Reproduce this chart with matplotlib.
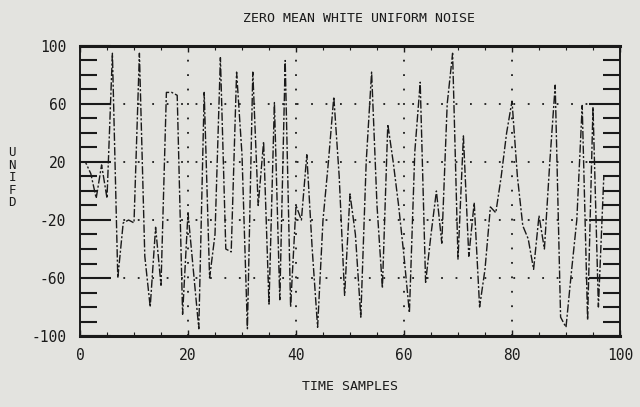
import matplotlib
matplotlib.use("Agg")
import matplotlib.pyplot as plt
from matplotlib.ticker import MultipleLocator, FixedLocator

# ---- data ----
samples = list(range(98))
noise = [20, 20, 12, -5, 18, -5, 95, -60, -22, -20,
         -22, 95, -45, -80, -25, -65, 68, 68, 66, -85,
         -15, -55, -95, 68, -60, -30, 92, -40, -42, 82,
         25, -95, 82, -10, 34, -78, 61, -75, 90, -80,
         -10, -20, 25, -40, -94, -20, 20, 65, 10, -72,
         -2, -30, -87, 20, 82, -10, -67, 46, 20, -10,
         -45, -84, 27, 75, -63, -30, 0, -36, 60, 95,
         -47, 38, -45, -8, -80, -54, -11, -15, 10, 40,
         62, 10, -24, -33, -54, -17, -40, 20, 73, -87,
         -94, -56, -20, 59, -89, 58, -80, 10]
xticks = [0, 20, 40, 60, 80, 100]
xtick_labels = ["0", "20", "40", "60", "80", "100"]
yticks = [-100, -60, -20, 20, 60, 100]
ytick_labels = ["-100", "-60", "-20", "20", "60", "100"]
title = "ZERO MEAN WHITE UNIFORM NOISE"
xlabel = "TIME SAMPLES"
ylabel = "UNIFD"

bg = "#e3e3df"
ink = "#1a1a1a"
mono = ["DejaVu Sans Mono"]

fig = plt.figure(figsize=(6.4, 4.07), dpi=100, facecolor=bg)
ax = fig.add_axes([80/640, 1-336/407, 540/640, 290/407], facecolor=bg)

ax.plot(samples, noise, color=ink, lw=1.0, linestyle=(0, (6, 1.5, 1.5, 1.5)))

ax.set_xlim(0, 100)
ax.set_ylim(-100, 100)

# dotted grid
for gx in [20, 40, 60, 80]:
    ax.axvline(gx, color=ink, lw=1.3, linestyle=(0, (1, 7)), zorder=0)
for gy in [-60, -20, 20, 60]:
    ax.axhline(gy, color=ink, lw=1.3, linestyle=(0, (1, 7)), zorder=0)

ax.xaxis.set_major_locator(FixedLocator(xticks))
ax.yaxis.set_major_locator(FixedLocator(yticks))
ax.set_xticklabels(xtick_labels, fontfamily=mono, fontsize=10.5, color=ink)
ax.set_yticklabels(ytick_labels, fontfamily=mono, fontsize=10.5, color=ink)
ax.xaxis.set_minor_locator(MultipleLocator(5))
ax.yaxis.set_minor_locator(MultipleLocator(10))

ax.tick_params(axis="y", which="major", direction="in", length=22, width=1.5,
               left=True, right=True, color=ink, pad=10)
ax.tick_params(axis="y", which="minor", direction="in", length=12, width=1.5,
               left=True, right=True, color=ink)
ax.tick_params(axis="x", which="major", direction="in", length=4, width=1.0,
               top=True, bottom=True, color=ink, pad=9)
ax.tick_params(axis="x", which="minor", direction="in", length=3, width=0.8,
               top=True, bottom=True, color=ink)

for side in ["top", "bottom"]:
    ax.spines[side].set_linewidth(2.2)
for side in ["left", "right"]:
    ax.spines[side].set_linewidth(1.4)
for s in ax.spines.values():
    s.set_color(ink)

fig.text(359/640, 1-18/407, title, ha="center", va="center",
         fontfamily=mono, fontsize=9.5, color=ink)
fig.text(350/640, 1-386/407, xlabel, ha="center", va="center",
         fontfamily=mono, fontsize=9.5, color=ink)
fig.text(12/640, 1-178/407, "\n".join(ylabel), ha="center", va="center",
         fontfamily=mono, fontsize=9, color=ink, linespacing=0.95)

fig.savefig("out.png", dpi=100, facecolor=bg)
